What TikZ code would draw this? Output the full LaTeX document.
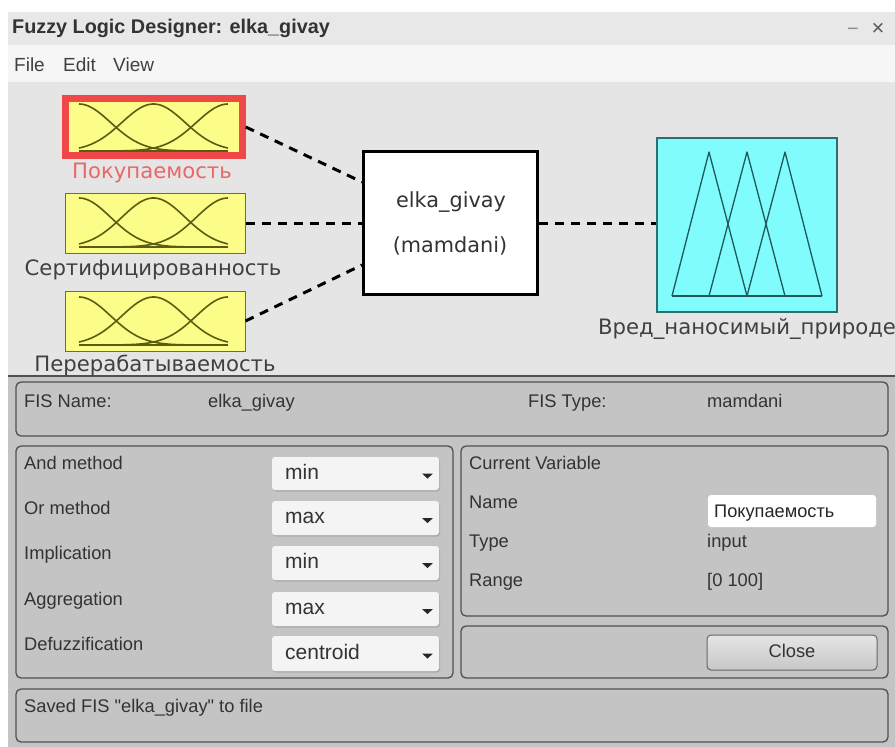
\documentclass[tikz,border=0pt]{standalone}
\usepackage{fontspec}
\setmainfont{Liberation Sans}[Ligatures=TeXOff]
\newfontfamily\djvu{DejaVu Sans}
\definecolor{titlebg}{HTML}{E8E8E8}
\definecolor{menubg}{HTML}{F6F6F6}
\definecolor{diagbg}{HTML}{E5E5E5}
\definecolor{panelbg}{HTML}{C4C4C4}
\definecolor{panelline}{HTML}{505050}
\definecolor{uitext}{HTML}{333333}
\definecolor{mfyellow}{HTML}{FCFC88}
\definecolor{mfborder}{HTML}{6E6E3A}
\definecolor{mfcurve}{HTML}{5C5C10}
\definecolor{selred}{HTML}{F04848}
\definecolor{labred}{HTML}{E86868}
\definecolor{outcyan}{HTML}{80FCFC}
\definecolor{outborder}{HTML}{2E6E6E}
\definecolor{tricol}{HTML}{1E5A5A}
\definecolor{ddfill}{HTML}{F4F4F4}
\definecolor{ddshadow}{HTML}{ABABAB}
\definecolor{difflabel}{HTML}{404040}
\newcommand\mfcurves[3]{%
  \begin{scope}[shift={(#1,#2)}, mfline]
    \draw plot[domain=0:1,samples=60,smooth] ({149*\x},{-#3*exp(-(\x*\x)/0.09015)});
    \draw plot[domain=0:1,samples=60,smooth] ({149*\x},{-#3*exp(-((\x-0.5)*(\x-0.5))/0.09015)});
    \draw plot[domain=0:1,samples=60,smooth] ({149*\x},{-#3*exp(-((\x-1)*(\x-1))/0.09015)});
    \draw (0,0)--(149,0);
  \end{scope}}
\begin{document}
\begin{tikzpicture}[x=1pt,y=-1pt,
  ui/.style={inner sep=0pt, anchor=mid west, text=uitext, font=\fontsize{18.3}{21}\selectfont},
  ddtext/.style={inner sep=0pt, anchor=mid west, text=uitext, font=\fontsize{21}{24}\selectfont},
  panel/.style={draw=panelline, line width=1.3pt, rounded corners=5pt},
  ddbox/.style={fill=ddfill, rounded corners=3pt},
  mfbox/.style={draw=mfborder, fill=mfyellow, line width=1pt, minimum width=180pt, minimum height=60pt, inner sep=0pt},
  mfline/.style={draw=mfcurve, line width=1.6pt},
  conn/.style={line width=3pt, dash pattern=on 9pt off 7pt},
  dlabel/.style={inner sep=0pt, anchor=mid, text=difflabel, font=\djvu\fontsize{21.2}{24}\selectfont},
  ddarrow/.style={fill=black!85}
]
\useasboundingbox (0,0) rectangle (895,747);
\fill[white] (0,0) rectangle (895,747);
% window chrome
\fill[titlebg] (8,12) rectangle (895,45);
\draw[black!35, line width=1pt] (8,45)--(895,45);
\fill[menubg] (8,45) rectangle (895,82);
\fill[diagbg] (8,82) rectangle (895,376);
\fill[panelbg] (8,376) rectangle (895,747);
\draw[panelline, line width=1.5pt] (8,376)--(895,376);

\node[inner sep=0pt, anchor=mid west, text=black!80, font=\bfseries\fontsize{19.8}{22}\selectfont] (title) at (12,31) {Fuzzy Logic Designer: elka\_givay};
\node[inner sep=0pt, anchor=mid, text=black!45, font=\fontsize{20}{22}\selectfont] (minbtn) at (853,33) {−};
\node[inner sep=0pt, anchor=mid, text=black!65, font=\fontsize{22}{22}\selectfont] (closex) at (878,33) {×};
\node[inner sep=0pt, anchor=mid west, text=black!75, font=\fontsize{19}{22}\selectfont] (mfile) at (14,69) {File};
\node[inner sep=0pt, anchor=mid west, text=black!75, font=\fontsize{19}{22}\selectfont] (medit) at (63,69) {Edit};
\node[inner sep=0pt, anchor=mid west, text=black!75, font=\fontsize{19}{22}\selectfont] (mview) at (113,69) {View};

% input membership boxes
\node[mfbox, draw=selred, line width=6.5pt, minimum width=177pt, minimum height=57pt] (in1) at (154,127) {};
\mfcurves{79}{151}{47}
\node[mfbox] (in2) at (155,223) {};
\mfcurves{79}{247}{49}
\node[mfbox] (in3) at (155,321) {};
\mfcurves{79}{345}{48}

\node[dlabel, text=labred] (lab1) at (152,176) {Покупаемость};
\node[dlabel] (lab2) at (153,273) {Сертифицированность};
\node[dlabel] (lab3) at (155,369) {Перерабатываемость};

% central FIS box
\node[draw=black, line width=3pt, fill=white, minimum width=174pt, minimum height=143pt, inner sep=0pt] (cen) at (450.5,223) {};
\node[inner sep=0pt, anchor=mid, text=black!80, font=\djvu\fontsize{20.8}{24}\selectfont] (cn1) at (451,205) {elka\_givay};
\node[inner sep=0pt, anchor=mid, text=black!80, font=\djvu\fontsize{20.8}{24}\selectfont] (cn2) at (450,250) {(mamdani)};

% output box
\node[draw=outborder, fill=outcyan, line width=1.2pt, minimum width=180pt, minimum height=174pt, inner sep=0pt] (out) at (747,225) {};
\draw[tricol, line width=1.3pt, line join=round] (672,296)--(709,152)--(747,296);
\draw[tricol, line width=1.3pt, line join=round] (709,296)--(747,152)--(785,296);
\draw[tricol, line width=1.3pt, line join=round] (747,296)--(785,152)--(822,296);
\draw[tricol, line width=1.3pt] (672,296)--(822,296);
\node[dlabel, anchor=mid west] (labout) at (598,332) {Вред\_наносимый\_природе};

% connectors
\draw[conn] (in1.east) -- ([yshift=41pt]cen.west);
\draw[conn] (in2.east) -- (cen.west);
\draw[conn] (in3.east) -- ([yshift=-42pt]cen.west);
\draw[conn] (cen.east) -- (out.west |- cen.east);

% bottom panels
\draw[panel] (16,382) rectangle (888,436);
\draw[panel] (16,446) rectangle (453,678);
\draw[panel] (461,446) rectangle (888,616);
\draw[panel] (461,626) rectangle (888,678);
\draw[panel] (16,689) rectangle (888,742);

\node[ui] (fisname) at (24,405) {FIS Name:};
\node[ui] (fisnamev) at (208,405) {elka\_givay};
\node[ui] (fistype) at (528,405) {FIS Type:};
\node[ui] (fistypev) at (707,405) {mamdani};

\node[ui] (andm) at (24,467) {And method};
\node[ui] (orm) at (24,512) {Or method};
\node[ui] (impl) at (24,557) {Implication};
\node[ui] (aggr) at (24,603) {Aggregation};
\node[ui] (defz) at (24,648) {Defuzzification};

% dropdowns
\foreach \ya/\yb/\t [count=\i] in {457/490/min, 501/535/max, 546/580/min, 592/626/max, 636/671/centroid}{
  \fill[ddshadow, rounded corners=3pt] (273,\ya+1.5) rectangle (440,\yb+1.5);
  \fill[ddbox] (272,\ya) rectangle (439,\yb);
  \node[ddtext] (dd\i) at (285,{(\ya+\yb)/2+3}) {\t};
  \fill[ddarrow] (422,{(\ya+\yb)/2}) -- (433,{(\ya+\yb)/2}) -- (427.5,{(\ya+\yb)/2+5}) -- cycle;
}

\node[ui] (curvar) at (469,467) {Current Variable};
\node[ui] (vname) at (469,506) {Name};
\node[ui] (vtype) at (469,545) {Type};
\node[ui] (vrange) at (469,584) {Range};
\fill[white, rounded corners=3pt] (708,495) rectangle (876,527);
\node[ui, font=\fontsize{18.2}{20}\selectfont, text=black!85] (vnamev) at (714,515) {Покупаемость};
\node[ui] (vtypev) at (707,545) {input};
\node[ui] (vrangev) at (707,584) {[0 100]};

\shade[top color=black!10, bottom color=black!22, draw=black!60, line width=1pt, rounded corners=4pt] (707,635) rectangle (877,670);
\node[ui, anchor=mid] (closebtn) at (792,655) {Close};

\node[ui] (status) at (24,710) {Saved FIS "elka\_givay" to file};
\end{tikzpicture}
\end{document}
